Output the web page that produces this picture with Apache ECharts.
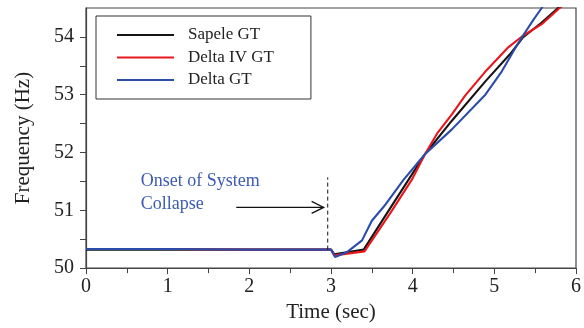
<!DOCTYPE html>
<html>
<head>
<meta charset="utf-8">
<script src="https://cdn.jsdelivr.net/npm/echarts@6/dist/echarts.min.js"></script>
<style>
  html, body { margin: 0; padding: 0; background: #fff; }
  #chart { width: 584px; height: 328px; }
</style>
</head>
<body>
<div id="chart"></div>
<script>
// time (s) / frequency (Hz)
const sapeleT = [0, 1, 2, 3.0, 3.04, 3.40, 3.69, 3.95, 4.15, 4.48, 4.89, 5.21, 5.35, 5.58, 5.78, 5.9];
const sapeleF = [50.32, 50.32, 50.32, 50.32, 50.24, 50.32, 50.96, 51.53, 51.97, 52.55, 53.23, 53.73, 53.99, 54.25, 54.5, 54.64];

const deltaIvT = [0, 1, 2, 3.0, 3.04, 3.41, 3.73, 3.99, 4.15, 4.30, 4.48, 4.64, 4.89, 5.05, 5.17, 5.35, 5.58, 5.80, 5.9];
const deltaIvF = [50.33, 50.33, 50.32, 50.32, 50.22, 50.29, 50.96, 51.53, 51.97, 52.33, 52.66, 52.98, 53.40, 53.64, 53.82, 54.02, 54.22, 54.5, 54.6];

const deltaT = [0, 1, 2, 3.0, 3.05, 3.20, 3.38, 3.50, 3.65, 3.89, 4.15, 4.48, 4.89, 5.09, 5.25, 5.35, 5.48, 5.58, 5.65];
const deltaF = [50.33, 50.33, 50.32, 50.32, 50.19, 50.28, 50.48, 50.82, 51.07, 51.53, 51.97, 52.40, 53.00, 53.40, 53.79, 54.02, 54.30, 54.5, 54.65];

const seriesNames = ["Sapele GT", "Delta IV GT", "Delta GT"];
const yLabels = [50, 51, 52, 53, 54];
const yTicks = [50, 50.5, 51, 51.5, 52, 52.5, 53, 53.5, 54];

// annotation
const onsetT = 2.96;
const onsetTop = 51.57;
const onsetBase = 50.32;
const arrowFrom = [1.84, 51.05];
const arrowTo = [2.91, 51.05];
const noteLines = ["Onset of System", "Collapse"];
const notePos = [[0.67, 51.5], [0.67, 51.11]];

const font = "Liberation Serif";
const axisColor = "#444";
const textColor = "#222";
const colors = ["#151515", "#e8161d", "#2b4ca8"];

// plain line icon for the legend (corner specks keep the 57x14 box)
const lineIcon = "path://M0,0L0.01,0L0,0.01Z M0,6.1L57,6.1L57,7.9L0,7.9Z M57,14L56.99,14L57,13.99Z";

const pairs = (t, f) => t.map((x, i) => [x, f[i]]);

const chart = echarts.init(document.getElementById("chart"));

const mkLine = (i, t, f) => ({
  name: seriesNames[i],
  type: "line",
  data: pairs(t, f),
  symbol: "none",
  showSymbol: false,
  lineStyle: { color: colors[i], width: 2.1 },
  itemStyle: { color: colors[i] },
  animation: false,
});

chart.setOption({
  animation: false,
  grid: {
    left: 86, right: 6, top: 8, bottom: 55,
    show: true, borderColor: axisColor, borderWidth: 1.2,
  },
  legend: {
    orient: "vertical",
    left: 96, top: 16,
    padding: [10.5, 37, 10.5, 21],
    itemWidth: 57, itemHeight: 14, itemGap: 5.5,
    icon: lineIcon,
    borderColor: "#333", borderWidth: 1,
    textStyle: { fontFamily: font, fontSize: 17, color: textColor, padding: [0, 0, 0, 9] },
    data: seriesNames,
  },
  xAxis: {
    type: "value",
    min: 0, max: 6, interval: 1,
    name: "Time (sec)",
    nameLocation: "middle",
    nameGap: 33,
    nameTextStyle: { fontFamily: font, fontSize: 21, color: textColor },
    axisLine: { lineStyle: { color: axisColor, width: 1.2 } },
    axisTick: { length: 6, lineStyle: { color: axisColor } },
    minorTick: { show: true, splitNumber: 2, length: 5, lineStyle: { color: axisColor } },
    splitLine: { show: false },
    axisLabel: { fontFamily: font, fontSize: 20, color: textColor, margin: 9 },
  },
  yAxis: {
    type: "value",
    min: 50, max: 54.5, interval: 1,
    name: "Frequency (Hz)",
    nameLocation: "middle",
    nameGap: 52,
    nameTextStyle: { fontFamily: font, fontSize: 21, color: textColor },
    axisLine: { show: true, lineStyle: { color: axisColor, width: 1.2 } },
    axisTick: { show: true, length: 6, customValues: yTicks, lineStyle: { color: axisColor } },
    splitLine: { show: false },
    axisLabel: { fontFamily: font, fontSize: 20, color: textColor, margin: 12, customValues: yLabels },
  },
  series: [
    mkLine(0, sapeleT, sapeleF),
    mkLine(1, deltaIvT, deltaIvF),
    mkLine(2, deltaT, deltaF),
  ],
});

const px = (p) => chart.convertToPixel({ gridIndex: 0 }, p);
const a = px(arrowFrom), b = px(arrowTo);
const d1 = px([onsetT, onsetBase]), d2 = px([onsetT, onsetTop]);

chart.setOption({
  graphic: [
    { type: "line", shape: { x1: d1[0], y1: d1[1], x2: d2[0], y2: d2[1] },
      style: { stroke: "#111", lineWidth: 1, lineDash: [4, 3] }, z: 50 },
    { type: "line", shape: { x1: a[0], y1: a[1], x2: b[0], y2: b[1] },
      style: { stroke: "#111", lineWidth: 1.3 }, z: 50 },
    { type: "polyline", shape: { points: [[b[0] - 12, b[1] - 6], [b[0], b[1]], [b[0] - 12, b[1] + 6]] },
      style: { stroke: "#111", lineWidth: 1.3, fill: null }, z: 50 },
    ...noteLines.map((txt, i) => {
      const p = px(notePos[i]);
      return {
        type: "text", x: p[0], y: p[1], z: 50,
        style: { text: txt, fill: "#3b5bb5", fontFamily: font, fontSize: 18, align: "left", verticalAlign: "middle" },
      };
    }),
  ],
});
</script>
</body>
</html>
